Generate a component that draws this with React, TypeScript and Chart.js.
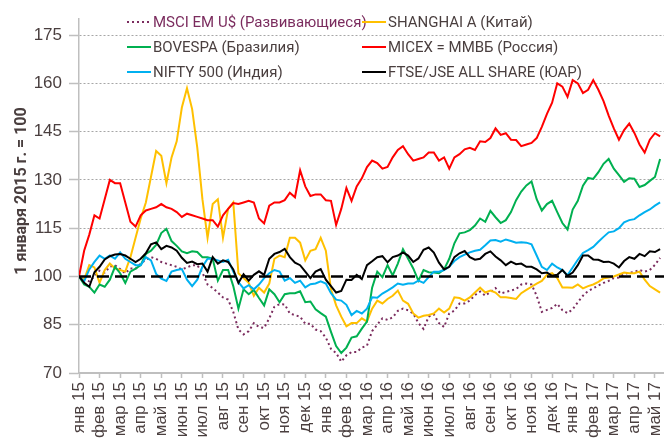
import React, { useEffect, useRef } from "react";
import { Chart, registerables } from "chart.js";

Chart.register(...registerables);

const MONTH_LABELS = [
  "янв 15", "фев 15", "мар 15", "апр 15", "май 15", "июн 15", "июл 15", "авг 15", "сен 15", "окт 15", "ноя 15", "дек 15",
  "янв 16", "фев 16", "мар 16", "апр 16", "май 16", "июн 16", "июл 16", "авг 16", "сен 16", "окт 16", "ноя 16", "дек 16",
  "янв 17", "фев 17", "мар 17", "апр 17", "май 17",
];

const Y_TICKS = [70, 85, 100, 115, 130, 145, 160, 175];

// values sampled every quarter of a month, starting 1 Jan 2015
const POINTS_PER_MONTH = 4;

const MSCI_EM = [
  100, 99, 98.5, 100, 101.8, 101.2, 103, 103.5, 102.3, 101, 102.5, 102.4, 104, 105.2, 106, 105.5,
  104.5, 104, 103.5, 103, 102.2, 102.8, 103.5, 103.5, 101.2, 97.5, 96.4, 95, 93.5, 92.8, 89, 83.5,
  82, 83, 85.5, 84.3, 84, 87, 90.6, 91.4, 91.3, 88.5, 88, 87.5, 85.3, 85.3, 83.5, 83,
  81, 77.5, 76.2, 73.5, 75.5, 76.5, 76.5, 77.9, 78.5, 83, 85, 87, 86.5, 87.3, 89.3, 90,
  89.5, 88.5, 85.5, 83.7, 87.5, 88.2, 85.5, 84.3, 88.5, 89.4, 91.6, 91.6, 92.5, 94.2, 95.3, 94,
  95.2, 96.4, 94.7, 95.2, 95.6, 96.1, 97.5, 97.8, 97.5, 94, 89, 89.6, 90.2, 91.5, 89.5, 88.6,
  89.8, 92, 94, 95.5, 96.3, 97.2, 98, 98.6, 99.5, 99.7, 100.8, 101.2, 101.4, 102, 101.5, 102,
  103.6, 105.8,
];

const SHANGHAI = [
  100, 99, 103.5, 102.8, 98, 102, 104, 102.5, 102, 101.5, 106, 112, 118, 123, 131, 139,
  137.5, 129, 137, 142, 152.5, 158.5, 152, 140, 124, 112, 122.5, 124, 112, 121, 123, 101,
  99.5, 98, 94, 96.5, 95, 97.8, 105.5, 106.5, 106, 112, 112, 110.5, 105, 108, 108.5, 112,
  108, 96, 91, 87.5, 84.5, 85.5, 85.5, 87, 86, 90, 92.5, 91.6, 93, 94, 95.6, 92.5,
  91.5, 88.5, 87.2, 87.8, 88, 88.5, 90, 88.8, 90, 93.5, 93.3, 92.5, 93.5, 95, 96.5, 95,
  95.6, 95, 93.5, 93.5, 93.3, 93, 94.8, 95.8, 96.8, 97.8, 98.6, 100.5, 101, 99.5, 96.6, 96.6,
  96.5, 97.5, 96.3, 97, 97.5, 98.3, 99.4, 99.7, 100, 100.6, 101.2, 101, 101, 101.5, 99, 97,
  96, 95,
];

const BOVESPA = [
  100, 97.5, 96.8, 95, 97.5, 96.8, 99, 103, 101, 98, 101.5, 102.4, 103.5, 107, 108, 109.8,
  113.5, 114.8, 111, 109.5, 107.8, 107.2, 107.8, 107.6, 106, 106, 105.5, 98.7, 102, 102, 97, 90,
  96, 94.5, 95.8, 93.3, 91, 96, 94.5, 92, 94.5, 94.8, 94.8, 95.4, 92, 92.2, 89.8, 88.6,
  87.5, 82.8, 78.4, 76.2, 77.9, 81, 81.4, 83.8, 86, 96.5, 101.5, 99.8, 103.5, 100.3, 104, 108.5,
  105.5, 102.5, 98.7, 102, 101.3, 101.2, 101, 102.2, 105.5, 110.3, 113.4, 113.7, 114.4, 115.8, 118, 117,
  120.4, 118.4, 116.6, 117.5, 120, 123.7, 126.4, 128.3, 129.5, 124, 120.5, 122.5, 123.5, 120, 116.6, 114.6,
  120.8, 123.5, 128.2, 130.6, 130.3, 132.4, 135, 136.5, 133.5, 131.5, 129.4, 130.5, 130.4, 127.8, 128.4, 129.7,
  130.9, 136.5,
];

const MICEX = [
  100, 108, 113, 119, 118, 124, 130, 129, 129, 123, 117, 115.5, 119, 120.5, 121, 121.5,
  122.5, 121.5, 121, 120, 118.5, 119.5, 119, 118.5, 118, 117.5, 117.5, 115.5, 119, 121, 122.8, 122.5,
  123, 123.5, 123, 118, 116.5, 122, 123, 123, 123.7, 126, 124.6, 133, 128, 125, 125.5, 125.5,
  123.7, 123.5, 116, 121, 127.5, 123.5, 128, 130.5, 134, 136, 135.2, 133.5, 134, 137, 139.3, 140.5,
  138, 136, 136.5, 137, 138.5, 138.5, 136, 137, 133.5, 137, 138, 139.5, 140, 139.3, 142, 141.8,
  143, 146, 144, 144.5, 142.5, 142.4, 140.5, 141, 141.5, 143, 146.5, 150.5, 154, 160, 159, 155.8,
  161, 160, 157, 158, 161, 158, 154.5, 150, 146, 142.5, 145.5, 147.5, 144.6, 141, 138.5, 142.5,
  144.5, 143.5,
];

const NIFTY = [
  100, 98.5, 102.2, 104.5, 106.5, 105.5, 106.5, 105.5, 107.5, 105.5, 104.5, 103.5, 103.5, 106, 105, 100.8,
  99.3, 98.6, 101.5, 102, 102.3, 99, 97, 99, 103, 105.5, 105.5, 105, 104.5, 105.2, 101.5, 98.2,
  96.3, 97.3, 96, 97.5, 99.5, 101, 102, 101.5, 98.7, 99.5, 98, 98.7, 96.6, 97.6, 97.8, 98.5,
  97.8, 94.8, 92.8, 92.5, 91.2, 88, 89.3, 88.5, 90, 93.5, 93.4, 94.7, 95.6, 96.6, 97.8, 97.4,
  97.8, 97.8, 98.7, 98, 99.8, 101.5, 101.5, 102, 103, 104.8, 106, 106.8, 107.5, 108, 108.3, 109.7,
  111.2, 111.3, 110.8, 111.5, 111, 110.5, 110.6, 110.5, 110, 106.5, 103, 102, 104, 102.8, 102, 100.4,
  102.8, 105.2, 107.3, 108.2, 109.2, 110.8, 112.3, 113.7, 114, 115, 116.8, 117.5, 117.8, 119, 120, 120.8,
  122, 123,
];

const FTSE_JSE = [
  100, 98, 96.8, 101.3, 103, 105.3, 106.3, 106.8, 107, 106.5, 105.5, 104.5, 105.5, 107.2, 110, 110.6,
  108.5, 109.5, 109, 108, 105.8, 104.2, 104.6, 103.8, 104, 101.5, 106, 104, 105, 104.5, 102.2, 98,
  100.7, 98.7, 100.5, 101.6, 100.5, 105.5, 107, 107.6, 108.6, 106, 104.3, 103.5, 101.5, 99.5, 101.5, 102.3,
  99, 97, 95, 95.5, 99, 98.9, 100.5, 99.2, 103.5, 104.7, 106, 106.3, 104.4, 106, 106.5, 107.5,
  106.5, 104.5, 105.6, 108.3, 109, 107.4, 104.3, 102.2, 103, 106, 107.2, 107.9, 106, 105.2, 105.5, 107,
  107.8, 106.2, 105, 103.5, 104.6, 103.8, 104, 103, 103, 102.2, 101, 101.2, 100.2, 100.5, 102, 100.2,
  101.2, 103.5, 106.5, 106.5, 105.3, 105.2, 104.5, 104.6, 104, 102.8, 104.8, 106, 105.5, 107, 106.3, 107.8,
  107.6, 108.5,
];

const SERIES_LABELS = [
  "MSCI EM U$ (Развивающиеся)",
  "SHANGHAI A (Китай)",
  "BOVESPA (Бразилия)",
  "MICEX = ММВБ (Россия)",
  "NIFTY 500 (Индия)",
  "FTSE/JSE ALL SHARE (ЮАР)",
];

const Y_TITLE = "1 января 2015 г. = 100";
const BASE_VALUE = 100;
const Y_MIN = 70;
const Y_MAX = 180;
const X_MAX = 28.44;

const TEXT_COLOR = "#4a3f3f";
const MSCI_COLOR = "#7b2c5e";

const toPoints = (arr: number[]) => arr.map((v, i) => ({ x: i / POINTS_PER_MONTH, y: v }));

const legendPlugin = {
  id: "customLegend",
  afterDraw(chart: any) {
    const ctx = chart.ctx;
    const slots = [
      { x: 127, y: 22, w: 22, tx: 153 },
      { x: 362, y: 22, w: 24, tx: 388 },
      { x: 127, y: 47, w: 24, tx: 153 },
      { x: 362, y: 47, w: 24, tx: 388 },
      { x: 127, y: 72, w: 24, tx: 153 },
      { x: 362, y: 72, w: 24, tx: 388 },
    ];
    ctx.save();
    chart.data.datasets.forEach((ds: any, i: number) => {
      const s = slots[i];
      if (!s) return;
      ctx.beginPath();
      ctx.strokeStyle = ds.borderColor;
      ctx.lineWidth = 2;
      ctx.setLineDash(ds.borderDash || []);
      ctx.moveTo(s.x, s.y);
      ctx.lineTo(s.x + s.w, s.y);
      ctx.stroke();
      ctx.setLineDash([]);
      ctx.font = "15px Roboto, 'Liberation Sans', sans-serif";
      ctx.fillStyle = i === 0 ? MSCI_COLOR : TEXT_COLOR;
      ctx.textAlign = "left";
      ctx.textBaseline = "middle";
      ctx.fillText(ds.label, s.tx, s.y + 1);
    });
    // y-axis title
    ctx.translate(22, 191);
    ctx.rotate(-Math.PI / 2);
    ctx.font = "bold 16px Roboto, 'Liberation Sans', sans-serif";
    ctx.fillStyle = TEXT_COLOR;
    ctx.textAlign = "center";
    ctx.textBaseline = "middle";
    ctx.fillText(Y_TITLE, 0, 0);
    ctx.restore();
  },
};

const baselinePlugin = {
  id: "baseline",
  afterDatasetsDraw(chart: any) {
    const { ctx, chartArea, scales } = chart;
    const y = scales.y.getPixelForValue(BASE_VALUE);
    ctx.save();
    ctx.beginPath();
    ctx.strokeStyle = "#000000";
    ctx.lineWidth = 2.5;
    ctx.setLineDash([12, 6]);
    ctx.moveTo(chartArea.left, y);
    ctx.lineTo(chartArea.right, y);
    ctx.stroke();
    ctx.restore();
  },
};

export default function App() {
  const canvasRef = useRef<HTMLCanvasElement | null>(null);

  useEffect(() => {
    if (!canvasRef.current) return;
    const mk = (i: number, data: number[], color: string, order: number, dash?: number[]) => ({
      label: SERIES_LABELS[i],
      data: toPoints(data),
      borderColor: color,
      backgroundColor: color,
      borderWidth: 2,
      borderDash: dash,
      pointRadius: 0,
      tension: 0,
      fill: false,
      order,
    });
    const chart = new Chart(canvasRef.current, {
      type: "line",
      data: {
        datasets: [
          mk(0, MSCI_EM, MSCI_COLOR, 6, [2, 3]),
          mk(1, SHANGHAI, "#ffc000", 5),
          mk(2, BOVESPA, "#00b050", 4),
          mk(3, MICEX, "#ff0000", 3),
          mk(4, NIFTY, "#00b0f0", 2),
          mk(5, FTSE_JSE, "#000000", 1),
        ],
      },
      options: {
        responsive: false,
        animation: false,
        layout: { padding: { top: 19, right: 0, left: 0, bottom: 0 } },
        plugins: { legend: { display: false }, tooltip: { enabled: false } },
        scales: {
          x: {
            type: "linear",
            min: 0,
            max: X_MAX,
            afterFit(scale: any) {
              scale.height = 68;
              scale.paddingLeft = 0;
              scale.paddingRight = 0;
            },
            grid: {
              display: true,
              drawOnChartArea: false,
              drawTicks: true,
              tickLength: 5,
              tickColor: "#bfbfbf",
              tickWidth: 1.5,
            },
            border: { display: true, color: "#bfbfbf", width: 2 },
            ticks: {
              stepSize: 1,
              autoSkip: false,
              includeBounds: false,
              maxRotation: 90,
              minRotation: 90,
              padding: 4,
              color: TEXT_COLOR,
              font: { family: "'Liberation Sans', Arial, sans-serif", size: 17 },
              callback: (v: any) => MONTH_LABELS[Math.round(Number(v))] ?? "",
            },
          },
          y: {
            min: Y_MIN,
            max: Y_MAX,
            afterFit(scale: any) {
              scale.width = 79;
            },
            afterBuildTicks(scale: any) {
              scale.ticks = Y_TICKS.map((v) => ({ value: v }));
            },
            grid: {
              display: true,
              color: (c: any) =>
                c.tick && (c.tick.value === BASE_VALUE || c.tick.value === Y_MIN) ? "rgba(0,0,0,0)" : "#a6a6a6",
              lineWidth: 1,
              drawTicks: true,
              tickLength: 10,
              tickColor: "#bfbfbf",
              tickWidth: 1.5,
              tickBorderDash: [],
            },
            border: { display: true, color: "#bfbfbf", width: 1.5, dash: [2, 2] },
            ticks: {
              autoSkip: false,
              padding: 7,
              color: TEXT_COLOR,
              font: { family: "'Liberation Sans', Arial, sans-serif", size: 17 },
            },
          },
        },
      },
      plugins: [baselinePlugin, legendPlugin],
    } as any);
    return () => chart.destroy();
  }, []);

  return (
    <div style={{ position: "absolute", left: 0, top: 0, width: 664, height: 441, overflow: "hidden", background: "#fff" }}>
      <canvas ref={canvasRef} width={664} height={441} style={{ display: "block" }} />
    </div>
  );
}
